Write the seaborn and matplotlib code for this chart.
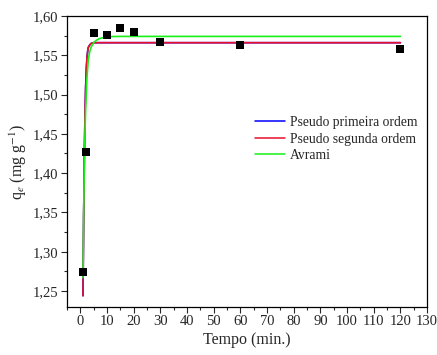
import matplotlib
matplotlib.use("Agg")
import matplotlib.pyplot as plt
import seaborn as sns
import pandas as pd
from matplotlib.ticker import MultipleLocator, FuncFormatter
from matplotlib.lines import Line2D

# Experimental points: contact time (min) and adsorbed amount q_e (mg g^-1)
tempo_exp = [1, 2, 5, 10, 15, 20, 30, 60, 120]
qe_exp = [1.274, 1.427, 1.578, 1.576, 1.585, 1.580, 1.567, 1.563, 1.558]

# Kinetic model curves (time, q)
tempo_pfo = [1, 1.25, 1.5, 1.75, 2, 2.25, 2.5, 2.75, 3, 3.5, 4, 5, 6, 8, 120]
qe_pfo = [1.244, 1.345, 1.420, 1.475, 1.510, 1.533, 1.547, 1.555, 1.560, 1.563, 1.565, 1.566, 1.566, 1.566, 1.566]

tempo_pso = [1, 1.25, 1.5, 1.75, 2, 2.25, 2.5, 2.75, 3, 3.5, 4, 5, 6, 8, 120]
qe_pso = [1.244, 1.345, 1.420, 1.475, 1.510, 1.533, 1.547, 1.555, 1.560, 1.563, 1.565, 1.566, 1.566, 1.566, 1.566]

tempo_avr = [1, 1.25, 1.5, 1.75, 2, 2.5, 3, 3.5, 4, 5, 6, 7, 8, 10, 12, 15, 120]
qe_avr = [1.267, 1.350, 1.410, 1.452, 1.482, 1.522, 1.545, 1.554, 1.560, 1.566, 1.569, 1.571, 1.572, 1.5733, 1.5738, 1.574, 1.574]

series_names = ["Pseudo primeira ordem", "Pseudo segunda ordem", "Avrami"]
series_colors = ["#0000ff", "#e8102a", "#18f018"]

sns.set_style("ticks")
plt.rcParams["font.family"] = ["Liberation Serif", "DejaVu Serif"]
plt.rcParams["mathtext.fontset"] = "stix"

fig = plt.figure(figsize=(4.37, 3.55), dpi=100)
ax = fig.add_axes([0.1533, 0.136, 0.824, 0.819])

curves = [(tempo_pfo, qe_pfo), (tempo_pso, qe_pso), (tempo_avr, qe_avr)]
for (t, q), name, col in zip(curves, series_names, series_colors):
    df = pd.DataFrame({"t": t, "q": q})
    sns.lineplot(data=df, x="t", y="q", ax=ax, color=col, linewidth=1.2,
                 sort=False, estimator=None, zorder=2)

df_exp = pd.DataFrame({"t": tempo_exp, "q": qe_exp})
sns.scatterplot(data=df_exp, x="t", y="q", ax=ax, marker="s", s=30,
                color="black", edgecolor="black", linewidth=0, zorder=3)

ax.set_xlim(-5, 130)
ax.set_ylim(1.23, 1.60)
ax.xaxis.set_major_locator(MultipleLocator(10))
ax.xaxis.set_minor_locator(MultipleLocator(5))
ax.yaxis.set_major_locator(MultipleLocator(0.05))
ax.yaxis.set_minor_locator(MultipleLocator(0.025))
ax.yaxis.set_major_formatter(FuncFormatter(lambda v, p: f"{v:.2f}".replace(".", ",")))

ax.tick_params(axis="both", which="major", direction="out", length=4, width=0.8,
               labelsize=10.5, pad=2, top=False, right=False)
ax.tick_params(axis="both", which="minor", direction="out", length=2.5, width=0.8,
               top=False, right=False)
for sp in ax.spines.values():
    sp.set_visible(True)
    sp.set_linewidth(0.9)
    sp.set_color("black")

ax.set_xlabel("Tempo (min.)", fontsize=11.5, labelpad=3)
ax.set_ylabel(r"q$_e$ (mg g$^{-1}$)", fontsize=11.5, labelpad=3)

handles = [Line2D([0], [0], color=c, linewidth=1.1) for c in series_colors]
ax.legend(handles, series_names, loc="upper left", bbox_to_anchor=(0.508, 0.675),
          frameon=False, fontsize=9.8, handlelength=2.2, handletextpad=0.35,
          labelspacing=0.27, borderaxespad=0)

fig.savefig("out.png", dpi=100)
